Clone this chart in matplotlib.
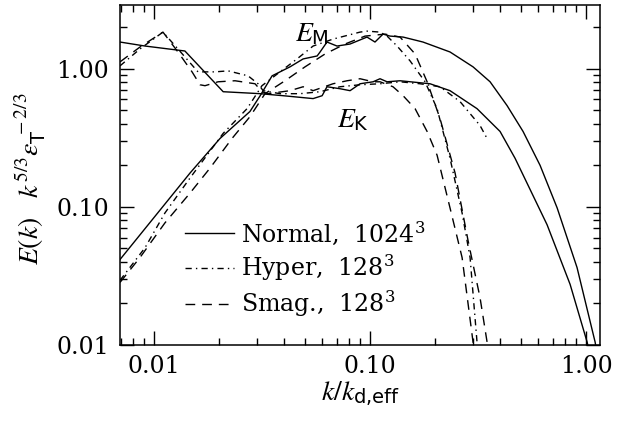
import matplotlib
matplotlib.use("Agg")
import matplotlib.pyplot as plt
from matplotlib.ticker import FixedLocator, FuncFormatter

plt.rcParams["font.family"] = "DejaVu Serif"
plt.rcParams["mathtext.fontset"] = "custom"
plt.rcParams["mathtext.rm"] = "STIXGeneral"
plt.rcParams["mathtext.it"] = "STIXGeneral:italic"
plt.rcParams["mathtext.sf"] = "DejaVu Sans"

# Normal run, 1024^3 (solid)
k_norm_K = [0.00696, 0.00909, 0.0139, 0.0209, 0.0310, 0.0396, 0.0440, 0.0545, 0.0600, 0.0632,
            0.0726, 0.0808, 0.0899, 0.1033, 0.1112, 0.1199, 0.1377, 0.1895, 0.2345, 0.3127,
            0.3998, 0.4691, 0.6598, 0.8433, 1.011, 1.06]
E_norm_K = [1.564, 1.463, 1.347, 0.683, 0.661, 0.639, 0.629, 0.609, 0.639, 0.742,
            0.718, 0.695, 0.780, 0.806, 0.848, 0.806, 0.820, 0.780, 0.695, 0.515,
            0.352, 0.225, 0.0743, 0.0275, 0.0105, 0.0075]
k_norm_M = [0.00696, 0.01468, 0.0202, 0.0278, 0.0310, 0.0352, 0.0426, 0.0490, 0.0569, 0.0587,
            0.0632, 0.0703, 0.0808, 0.0968, 0.1054, 0.1148, 0.1238, 0.1422, 0.1758, 0.2345,
            0.2997, 0.3594, 0.4307, 0.5108, 0.6124, 0.7345, 0.908, 1.101, 1.13]
E_norm_M = [0.0416, 0.176, 0.313, 0.491, 0.639, 0.890, 1.034, 1.180, 1.240, 1.325,
            1.564, 1.463, 1.513, 1.699, 1.564, 1.785, 1.727, 1.699, 1.564, 1.325,
            1.034, 0.806, 0.542, 0.352, 0.200, 0.0984, 0.0364, 0.0105, 0.0082]

# Hyper run, 128^3 (dash-dot)
k_hyp_K = [0.00696, 0.00861, 0.0110, 0.01291, 0.01598, 0.01916, 0.02202, 0.02725, 0.0303, 0.0320,
           0.0383, 0.0474, 0.0587, 0.0726, 0.0899, 0.1112, 0.1377, 0.1703, 0.2108, 0.2610,
           0.3228, 0.3481]
E_hyp_K = [1.051, 1.393, 1.846, 1.393, 0.951, 0.951, 0.967, 0.890, 0.780, 0.695,
           0.661, 0.661, 0.683, 0.742, 0.767, 0.780, 0.806, 0.780, 0.742, 0.579,
           0.389, 0.313]
k_hyp_M = [0.00696, 0.00909, 0.01124, 0.01468, 0.0209, 0.02696, 0.0316, 0.0383, 0.0459, 0.0545,
           0.0674, 0.0899, 0.0968, 0.1112, 0.1199, 0.1334, 0.1532, 0.1797, 0.2043, 0.2345,
           0.2667, 0.2904, 0.3127, 0.316]
E_hyp_M = [0.0294, 0.0507, 0.0905, 0.162, 0.341, 0.515, 0.755, 0.951, 1.180, 1.463,
           1.643, 1.846, 1.876, 1.846, 1.727, 1.463, 1.142, 0.806, 0.515, 0.225,
           0.0905, 0.0430, 0.0105, 0.0095]

# Smagorinsky run, 128^3 (dashed)
k_smag_K = [0.00696, 0.00861, 0.0110, 0.01291, 0.0150, 0.01633, 0.01722, 0.01979, 0.02371, 0.02935,
            0.0316, 0.0337, 0.0426, 0.0490, 0.0545, 0.0674, 0.0783, 0.0899, 0.1033, 0.1112,
            0.1277, 0.1422, 0.1616, 0.1837, 0.2043, 0.2345, 0.2667, 0.2997, 0.303]
E_smag_K = [1.123, 1.439, 1.846, 1.325, 0.951, 0.767, 0.755, 0.806, 0.820, 0.780,
            0.683, 0.661, 0.695, 0.742, 0.695, 0.780, 0.820, 0.848, 0.806, 0.806,
            0.742, 0.639, 0.515, 0.352, 0.237, 0.0984, 0.0430, 0.0105, 0.0095]
k_smag_M = [0.00696, 0.00861, 0.01124, 0.01468, 0.01816, 0.02296, 0.02782, 0.03264, 0.0404, 0.0500,
            0.0619, 0.0766, 0.0948, 0.1173, 0.1377, 0.1616, 0.1837, 0.2108, 0.2475, 0.2843,
            0.3228, 0.3481, 0.355]
E_smag_M = [0.0284, 0.0430, 0.0767, 0.126, 0.191, 0.313, 0.451, 0.661, 0.820, 1.034,
            1.282, 1.513, 1.727, 1.785, 1.699, 1.282, 0.806, 0.437, 0.176, 0.0569,
            0.0221, 0.0105, 0.0090]

tick_vals = [0.01, 0.1, 1.0]

fig = plt.figure(figsize=(6.26, 4.21), dpi=100)
ax = fig.add_axes([0.1917, 0.1805, 0.7668, 0.8076])

dashed = (0, (7, 5))
dashdot = (0, (4.5, 3, 1, 3))
lw = 1.0

ax.plot(k_norm_K, E_norm_K, color="black", lw=lw, ls="-", label=r"Normal,  1024$^{\mathregular{3}}$")
ax.plot(k_norm_M, E_norm_M, color="black", lw=lw, ls="-")
ax.plot(k_hyp_K, E_hyp_K, color="black", lw=lw, ls=dashdot, label=r"Hyper,  128$^{\mathregular{3}}$")
ax.plot(k_hyp_M, E_hyp_M, color="black", lw=lw, ls=dashdot)
ax.plot(k_smag_K, E_smag_K, color="black", lw=lw, ls=dashed, label=r"Smag.,  128$^{\mathregular{3}}$")
ax.plot(k_smag_M, E_smag_M, color="black", lw=lw, ls=dashed)

ax.set_xscale("log")
ax.set_yscale("log")
ax.set_xlim(0.00696, 1.16)
ax.set_ylim(0.01, 2.9)

fmt = FuncFormatter(lambda v, p: "%.2f" % v)
ax.xaxis.set_major_locator(FixedLocator(tick_vals))
ax.yaxis.set_major_locator(FixedLocator(tick_vals))
ax.xaxis.set_major_formatter(fmt)
ax.yaxis.set_major_formatter(fmt)
ax.tick_params(which="both", direction="in", top=True, right=True, labelsize=17, width=1.0)
ax.tick_params(which="major", length=10)
ax.tick_params(which="minor", length=5)
ax.tick_params(axis="y", pad=8)
ax.tick_params(axis="x", pad=7)
for s in ax.spines.values():
    s.set_linewidth(1.1)

ax.set_xlabel(r"$k/k_{\mathsf{d{,}eff}}$", fontsize=20, labelpad=1)
ax.set_ylabel(r"$E(k)\ \ \ k^{5/3}\epsilon_{\mathsf{T}}^{\ -2/3}$", fontsize=20)
ax.yaxis.set_label_coords(-0.15, 0.49)

ax.text(0.365, 0.915, r"$E_{\mathsf{M}}$", transform=ax.transAxes, fontsize=20, ha="left", va="center")
ax.text(0.452, 0.662, r"$E_{\mathsf{K}}$", transform=ax.transAxes, fontsize=20, ha="left", va="center")

ax.legend(loc="upper left", bbox_to_anchor=(0.135, 0.37), frameon=False, fontsize=17,
          handlelength=2.1, handletextpad=0.3, labelspacing=0.25, borderpad=0, borderaxespad=0)

fig.savefig("out.png", dpi=100)
